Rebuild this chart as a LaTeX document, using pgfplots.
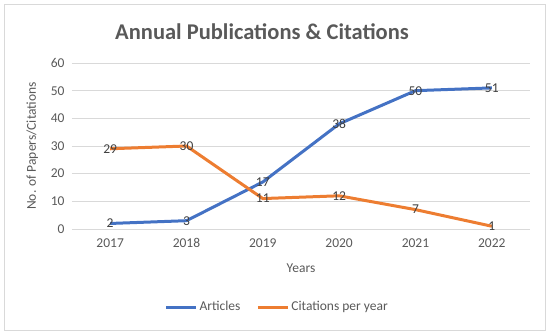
\documentclass[border=0pt]{standalone}
\usepackage{fontspec}
\setmainfont{Carlito}
\usepackage{pgfplots}
\pgfplotsset{compat=1.18}
\definecolor{xblue}{HTML}{4472C4}
\definecolor{xorange}{HTML}{ED7D31}
\definecolor{txt}{HTML}{595959}
\definecolor{lab}{HTML}{404040}
\definecolor{gridc}{HTML}{D9D9D9}
\begin{document}
\begin{tikzpicture}[x=1pt,y=1pt]
\path (0,0) rectangle (550,334);
\draw[gridc, line width=0.8pt] (4,4) rectangle (545,330);
\node[font=\bfseries\fontsize{22.5}{26}\selectfont, text=txt] at (262,302) {Annual Publications \& Citations};
\begin{axis}[
  at={(72pt,105pt)}, anchor=south west,
  scale only axis, width=458pt, height=166pt,
  xmin=2016.5, xmax=2022.5, ymin=0, ymax=60,
  xtick={2017,...,2022}, ytick={0,10,...,60},
  xticklabel style={/pgf/number format/1000 sep={}, yshift=-6pt},
  yticklabel style={xshift=-4pt},
  /pgf/number format/assume math mode=true,
  ticklabel style={font=\fontsize{13.5}{16}\selectfont, text=txt},
  major tick length=0pt,
  axis line style={draw=none},
  ymajorgrids, xmajorgrids=false, grid style={draw=gridc, line width=0.8pt},
  xlabel={Years}, ylabel={No. of Papers/Citations},
  label style={font=\fontsize{13.5}{16}\selectfont, text=txt},
  xlabel style={at={(axis description cs:0.5,-0.235)}, anchor=center},
  ylabel style={at={(axis description cs:-0.087,0.5)}, anchor=center},
  clip=false,
  nodes near coords,
  every node near coord/.append style={anchor=center, font=\fontsize{13.5}{16}\selectfont, text=lab},
  legend columns=2,
  legend style={at={(0.448,-0.47)}, anchor=center, draw=none, fill=none,
    font=\fontsize{13.5}{16}\selectfont, text=txt,
    /tikz/every even column/.append style={column sep=14pt}},
  legend image code/.code={\draw[#1, line width=3pt] (0pt,0pt) -- (30pt,0pt);},
]
\addplot[xblue, line width=3pt, line join=round] coordinates {(2017,2) (2018,3) (2019,17) (2020,38) (2021,50) (2022,51)};
\addlegendentry{Articles}
\addplot[xorange, line width=3pt, line join=round] coordinates {(2017,29) (2018,30) (2019,11) (2020,12) (2021,7) (2022,1)};
\addlegendentry{Citations per year}
\draw[gridc, line width=0.8pt] (axis cs:2016.5,0) -- (axis cs:2022.5,0);
\end{axis}
\end{tikzpicture}
\end{document}
